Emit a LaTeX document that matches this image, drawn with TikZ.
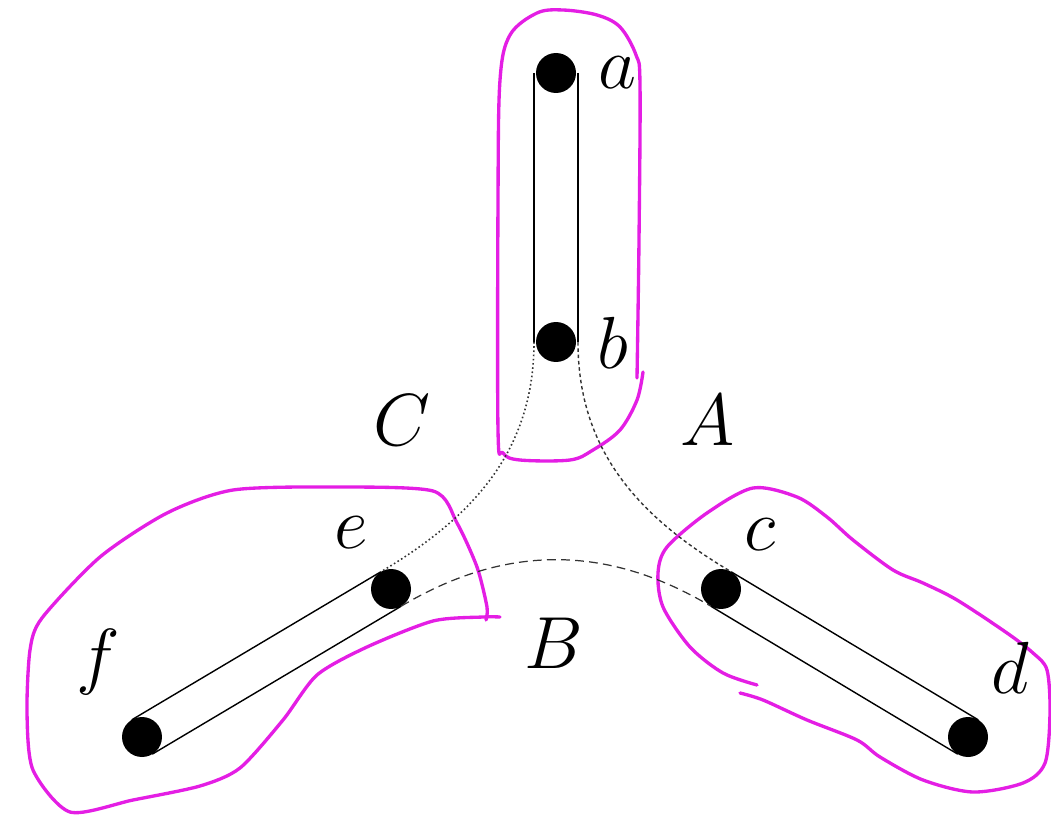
\documentclass[tikz,border=0pt]{standalone}
\usepackage{fix-cm}
\usetikzlibrary{calc}
\definecolor{hullpink}{RGB}{228,30,228}
\begin{document}
\begin{tikzpicture}[x=0.02cm,y=-0.02cm,
  vertex/.style={circle,fill=black,inner sep=0pt,minimum size=0.8cm},
  edgeline/.style={line width=0.8pt},
  lab/.style={font=\fontsize{42}{46}\selectfont,inner sep=0pt},
  hull/.style={draw=hullpink,line width=1.9pt,line cap=round,line join=round},
  gapC/.style={draw=black!80,line width=0.9pt,dash pattern=on 0.9pt off 1.5pt},
  gapA/.style={draw=black!80,line width=0.8pt,dash pattern=on 2pt off 1.6pt},
  gapB/.style={draw=black!80,line width=0.7pt,dash pattern=on 5pt off 3pt}]

\useasboundingbox (0,0) rectangle (1051,817);

% hand-drawn hulls around the three edges
\draw[hull] plot[smooth,tension=0.55] coordinates {
  (643,372) (637,400) (620,430) (593,450) (570,460) (520,460) (503,453)
  (498,430) (498,200) (500,80) (510,35) (537,13) (563,10) (597,15)
  (620,27) (636,55) (640,85) (639,240) (637,378)};
\draw[hull] plot[smooth,tension=0.45] coordinates {
  (500,617) (483,617) (433,621) (367,647) (317,675) (283,720) (240,768)
  (200,786) (133,800) (70,812) (33,770) (27,713) (30,650) (42,618)
  (100,557) (167,513) (233,490) (333,487) (433,491) (457,523) (477,567)
  (487,607) (486,620)};
\draw[hull] plot[smooth,tension=0.5] coordinates {
  (757,685) (723,673) (690,647) (663,607) (658,573) (667,547) (707,513)
  (753,488) (797,497) (827,517) (853,540) (893,570) (923,583) (957,600)
  (1007,633) (1033,653) (1047,670) (1050,713) (1045,763) (1023,783)
  (973,792) (923,780) (880,757) (857,740) (807,720) (763,700) (740,693)};

% vertices
\node[vertex] (a) at (556,73) {};
\node[vertex] (b) at (556,342) {};
\node[vertex] (c) at (721,589) {};
\node[vertex] (d) at (968,737) {};
\node[vertex] (e) at (391,589) {};
\node[vertex] (f) at (142,737) {};

% side points of the doubled edges
\coordinate (aL) at ($(a)!0.44cm!-90:(b)$);
\coordinate (aR) at ($(a)!0.44cm!90:(b)$);
\coordinate (bL) at ($(b)!0.44cm!90:(a)$);
\coordinate (bR) at ($(b)!0.44cm!-90:(a)$);
\coordinate (eU) at ($(e)!0.4cm!-90:(f)$);
\coordinate (eD) at ($(e)!0.4cm!90:(f)$);
\coordinate (fU) at ($(f)!0.4cm!90:(e)$);
\coordinate (fD) at ($(f)!0.4cm!-90:(e)$);
\coordinate (cU) at ($(c)!0.4cm!90:(d)$);
\coordinate (cD) at ($(c)!0.4cm!-90:(d)$);
\coordinate (dU) at ($(d)!0.4cm!-90:(c)$);
\coordinate (dD) at ($(d)!0.4cm!90:(c)$);

% doubled edges
\draw[edgeline] (aL) -- (bL) (aR) -- (bR);
\draw[edgeline] (eU) -- (fU) (eD) -- (fD);
\draw[edgeline] (cU) -- (dU) (cD) -- (dD);

% curved boundaries between the edges
\draw[gapC] (bL) .. controls +(0,108) and +(93,-55) .. (eU);
\draw[gapA] (bR) .. controls +(0,108) and +(-93,-55) .. (cU);
\draw[gapB] (eD) .. controls +(104,-62) and +(-104,-62) .. (cD);

% vertex labels
\node[lab] (la) at (617,73) {$a$};
\node[lab] (lb) at (613,343) {$b$};
\node[lab] (lc) at (760,535) {$c$};
\node[lab] (ld) at (1010,668) {$d$};
\node[lab] (le) at (351,533) {$e$};
\node[lab] (lf) at (98,662) {$f$};

% region labels
\node[lab] (rA) at (708,420) {$A$};
\node[lab] (rB) at (554,643) {$B$};
\node[lab] (rC) at (402,420) {$C$};
\end{tikzpicture}
\end{document}
